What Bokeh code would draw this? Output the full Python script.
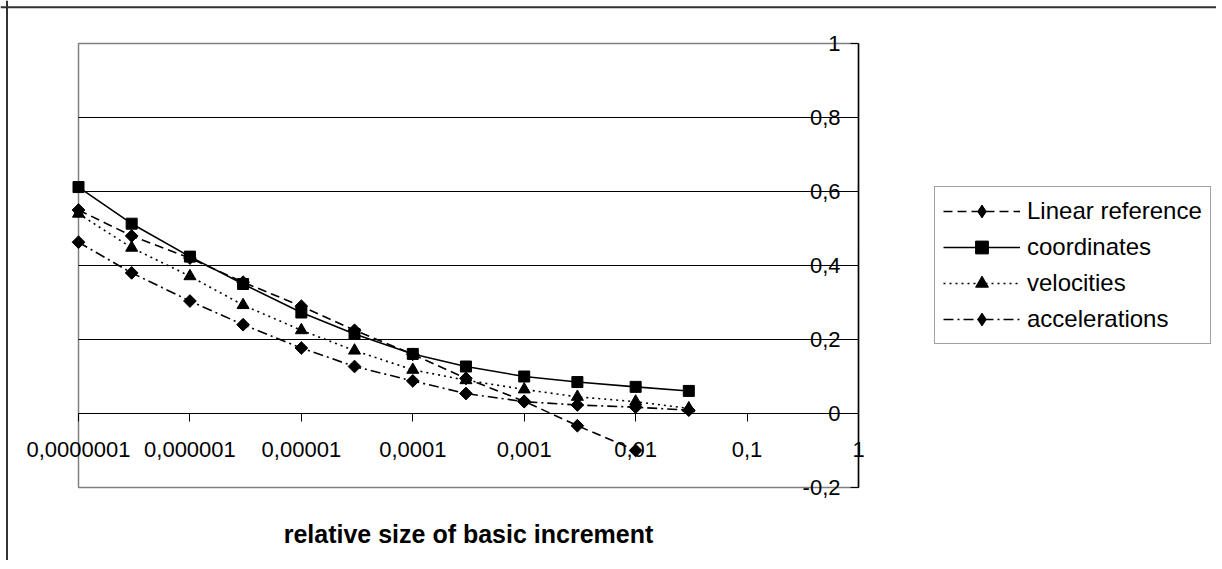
import math
from bokeh.plotting import figure
from bokeh.models import (LogAxis, LinearAxis, FixedTicker, CustomJSTickFormatter,
                          Label, Legend, LegendItem, BoxAnnotation, Span, Range1d)
from bokeh.embed import file_html
from bokeh.resources import INLINE

# ---- data ----
increments = [1e-7, 3e-7, 1e-6, 3e-6, 1e-5, 3e-5, 1e-4, 3e-4, 1e-3, 3e-3, 1e-2, 3e-2]
linear_reference = [0.55, 0.48, 0.42, 0.355, 0.29, 0.225, 0.16, 0.095, 0.033, -0.033, -0.10]
coordinates = [0.612, 0.513, 0.424, 0.350, 0.273, 0.215, 0.161, 0.127, 0.100, 0.085, 0.072, 0.061]
velocities = [0.540, 0.448, 0.371, 0.293, 0.225, 0.170, 0.118, 0.090, 0.065, 0.045, 0.032, 0.014]
accelerations = [0.463, 0.380, 0.304, 0.240, 0.177, 0.127, 0.088, 0.054, 0.032, 0.023, 0.017, 0.009]

series_names = ["Linear reference", "coordinates", "velocities", "accelerations"]

x_ticks = [1e-7, 1e-6, 1e-5, 1e-4, 1e-3, 1e-2, 1e-1, 1]
x_tick_labels = ["0,0000001", "0,000001", "0,00001", "0,0001", "0,001", "0,01", "0,1", "1"]
y_ticks = [-0.2, 0, 0.2, 0.4, 0.6, 0.8, 1]
y_tick_labels = ["-0,2", "0", "0,2", "0,4", "0,6", "0,8", "1"]
y_grid = [0.2, 0.4, 0.6, 0.8]
x_title = "relative size of basic increment"

X_MIN, X_MAX = 1e-7, 1.0
Y_MIN, Y_MAX = -0.2, 1.0

FONT = "Liberation Sans"

# ---- layout (pixels) ----
W, H = 1216, 560
PL, PR, PT, PB = 78, 858, 43, 487          # plot-area edges on the canvas
dec_px = (PR - PL) / (math.log10(X_MAX) - math.log10(X_MIN))
unit_px = (PB - PT) / (Y_MAX - Y_MIN)
x_lo = 10 ** (math.log10(X_MIN) - PL / dec_px)
x_hi = 10 ** (math.log10(X_MAX) + (W - PR) / dec_px)
y_hi = Y_MAX + PT / unit_px
y_lo = Y_MIN - (H - PB) / unit_px

p = figure(width=W, height=H, output_backend="svg", toolbar_location=None,
           x_axis_type="log", x_axis_location=None, y_axis_location=None,
           x_range=Range1d(x_lo, x_hi), y_range=Range1d(y_lo, y_hi),
           min_border=0, min_border_left=0, min_border_right=0,
           min_border_top=0, min_border_bottom=0)
p.background_fill_color = "white"
p.border_fill_color = "white"
p.outline_line_color = None
p.xgrid.visible = False
p.ygrid.visible = False

# outer chart border (only its left and top edges fall inside the window)
p.add_layout(Span(location=6.5, location_units="screen", dimension="height",
                  line_color="#333333", line_width=2))
p.add_layout(Span(location=H - 6.7, location_units="screen", dimension="width",
                  line_color="#333333", line_width=2))

# plot area border
p.add_layout(BoxAnnotation(left=X_MIN, right=X_MAX, bottom=Y_MIN, top=Y_MAX,
                           fill_alpha=0, line_color="#808080", line_alpha=1,
                           line_width=1.5, level="underlay"))

# horizontal gridlines
p.segment(x0=[X_MIN] * len(y_grid), x1=[X_MAX] * len(y_grid), y0=y_grid, y1=y_grid,
          line_color="black", line_width=1)

# axes
xaxis = LogAxis(fixed_location=0, bounds=(X_MIN, X_MAX))
xaxis.ticker = FixedTicker(ticks=x_ticks, minor_ticks=[])
xaxis.formatter = CustomJSTickFormatter(args=dict(tvals=x_ticks, tlabels=x_tick_labels), code="""
    let best = 0, bd = 1e9;
    for (let i = 0; i < tvals.length; i++) {
        const d = Math.abs(Math.log10(tick) - Math.log10(tvals[i]));
        if (d < bd) { bd = d; best = i; }
    }
    return tlabels[best];
""")
xaxis.major_tick_out = 8
xaxis.major_tick_in = 0
xaxis.minor_tick_line_color = None
xaxis.axis_line_color = "black"
xaxis.major_tick_line_color = "black"
xaxis.major_label_text_font = FONT
xaxis.major_label_text_font_size = "22px"
xaxis.major_label_text_color = "black"
xaxis.major_label_standoff = 20
p.add_layout(xaxis, "below")

yaxis = LinearAxis(fixed_location=X_MAX, bounds=(Y_MIN, Y_MAX))
yaxis.ticker = FixedTicker(ticks=y_ticks, minor_ticks=[])
yaxis.formatter = CustomJSTickFormatter(args=dict(tvals=y_ticks, tlabels=y_tick_labels), code="""
    let best = 0, bd = 1e9;
    for (let i = 0; i < tvals.length; i++) {
        const d = Math.abs(tick - tvals[i]);
        if (d < bd) { bd = d; best = i; }
    }
    return tlabels[best];
""")
yaxis.major_tick_out = 8
yaxis.major_tick_in = 0
yaxis.minor_tick_line_color = None
yaxis.axis_line_color = "black"
yaxis.axis_line_width = 1.5
yaxis.major_tick_line_color = "black"
yaxis.major_label_text_font = FONT
yaxis.major_label_text_font_size = "22px"
yaxis.major_label_text_color = "black"
yaxis.major_label_standoff = 10
p.add_layout(yaxis, "left")

# series
ms = 9
lw = 1.6
n_lin = len(linear_reference)
x_lin = increments[:n_lin]
r1l = p.line(x_lin, linear_reference, line_color="black", line_width=lw, line_dash="9 5")
# diamond marker (used for the legend swatch), covered by the rotated square drawn on top
d1 = p.scatter(x_lin, linear_reference, marker="diamond", size=11, color="black")
p.scatter(x_lin, linear_reference, marker="square", angle=math.pi / 4, size=ms, color="black")

r2l = p.line(increments, coordinates, line_color="black", line_width=lw)
r2m = p.scatter(increments, coordinates, marker="square", size=11, color="black")

r3l = p.line(increments, velocities, line_color="black", line_width=lw, line_dash="2 4")
r3m = p.scatter(increments, velocities, marker="triangle", size=12, color="black")

r4l = p.line(increments, accelerations, line_color="black", line_width=lw, line_dash="10 4 2 4")
d4 = p.scatter(increments, accelerations, marker="diamond", size=11, color="black")
p.scatter(increments, accelerations, marker="square", angle=math.pi / 4, size=ms, color="black")

legend = Legend(items=[
    LegendItem(label=series_names[0], renderers=[r1l, d1]),
    LegendItem(label=series_names[1], renderers=[r2l, r2m]),
    LegendItem(label=series_names[2], renderers=[r3l, r3m]),
    LegendItem(label=series_names[3], renderers=[r4l, d4]),
], location=(934, H - 344))
legend.label_text_font = FONT
legend.label_text_font_size = "24px"
legend.label_text_color = "black"
legend.glyph_width = 77
legend.glyph_height = 32
legend.label_height = 20
legend.spacing = 4
legend.padding = 8
legend.margin = 0
legend.label_standoff = 7
legend.border_line_color = "#444444"
legend.border_line_width = 1
legend.background_fill_color = "white"
legend.background_fill_alpha = 1
p.add_layout(legend, "center")

p.add_layout(Label(x=(PL + PR) / 2, y=H - 533, x_units="screen", y_units="screen", text=x_title,
                   text_align="center", text_baseline="middle", text_font=FONT,
                   text_font_size="25px", text_font_style="bold", text_color="black"))

open("out.html", "w").write(file_html(p, INLINE))
